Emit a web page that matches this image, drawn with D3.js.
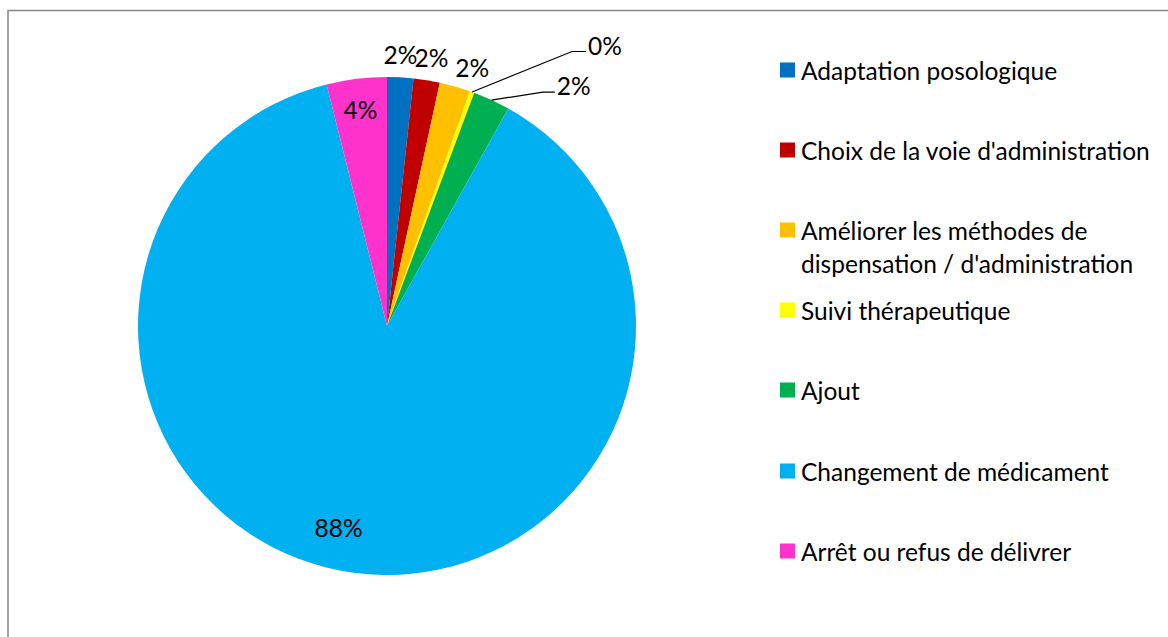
<!DOCTYPE html>
<html><head><meta charset="utf-8">
<script src="https://cdn.jsdelivr.net/npm/d3@7"></script>
<style>html,body{margin:0;padding:0;background:#fff;}svg{display:block;}</style>
</head><body>
<svg id="chart" width="1168" height="637"></svg>
<script>
const categories = ["Adaptation posologique","Choix de la voie d'administration","Améliorer les méthodes de\ndispensation / d'administration","Suivi thérapeutique","Ajout","Changement de médicament","Arrêt ou refus de délivrer"];
const values = [1.7, 1.7, 2.0, 0.3, 2.4, 88.0, 3.9];
const colors = ["#0070C0","#C00000","#FFC000","#FFFF00","#00B050","#00B0F0","#FF33CC"];

const svg = d3.select("#chart");
const font = "Lato, 'Open Sans', sans-serif";
const fs = 24.5;

svg.append("rect").attr("x",8).attr("y",10.5).attr("width",1200).attr("height",700)
  .attr("fill","#fff").attr("stroke","#868686").attr("stroke-width",1.5);

const cx = 387, cy = 326, r = 249;
const g = svg.append("g").attr("transform",`translate(${cx},${cy})`);
const pie = d3.pie().sort(null).value(d=>d);
const arcs = pie(values);
const arc = d3.arc().innerRadius(0).outerRadius(r);
g.selectAll("path.slice").data(arcs).join("path").attr("class","slice")
  .attr("d",arc).attr("fill",(d,i)=>colors[i]);

const fmt = d3.format(".0%");
const pt = (a, rad) => [Math.sin(a)*rad, -Math.cos(a)*rad];
const mid = d => (d.startAngle+d.endAngle)/2;

// label placement style per slice
const mode = ["out","out","out","leader","leader","in","in"];
const outR = 272, inR = 218;
const extraAngle = [-0.004,0.004,0.042,0,0,0,0];
const leaderElbow = [null,null,null,{r:331,a:0.593,len:14},{r:281,a:0.588,len:12},null,null];

arcs.forEach((d,i)=>{
  const txt = fmt(values[i]/100);
  const a = mid(d);
  if (mode[i]==="out") {
    const [x,y] = pt(a+extraAngle[i], outR);
    g.append("text").attr("x",x).attr("y",y).attr("text-anchor","middle")
      .attr("dominant-baseline","central").attr("font-family",font).attr("font-size",fs)
      .attr("fill","#000").text(txt);
  } else if (mode[i]==="leader") {
    const s = pt(a, r);
    const e = pt(leaderElbow[i].a, leaderElbow[i].r);
    const h = [e[0]+leaderElbow[i].len, e[1]];
    g.append("path").attr("d",d3.line()([s,e,h])).attr("fill","none")
      .attr("stroke","#000").attr("stroke-width",1.2);
    g.append("text").attr("x",h[0]+2).attr("y",h[1]+3).attr("text-anchor","start")
      .attr("font-family",font).attr("font-size",fs).attr("fill","#000").text(txt);
  } else {
    const rad = i===5 ? 207 : inR;
    const ang = i===5 ? a+0.104 : a;
    const [x,y] = pt(ang, rad);
    g.append("text").attr("x",x).attr("y",y).attr("text-anchor","middle")
      .attr("dominant-baseline","central").attr("font-family",font).attr("font-size",fs)
      .attr("fill","#000").text(txt);
  }
});

// legend
const legY = [70,150,230,310,390,471,551];
const lg = svg.append("g");
categories.forEach((c,i)=>{
  lg.append("rect").attr("x",780).attr("y",legY[i]-7.5).attr("width",15).attr("height",15).attr("fill",colors[i]);
  const lines = c.split("\n");
  lines.forEach((l,j)=>{
    lg.append("text").attr("x",801).attr("y",legY[i]+j*33).attr("dominant-baseline","central")
      .attr("font-family",font).attr("font-size",fs).attr("fill","#000").text(l);
  });
});
</script>
</body></html>
